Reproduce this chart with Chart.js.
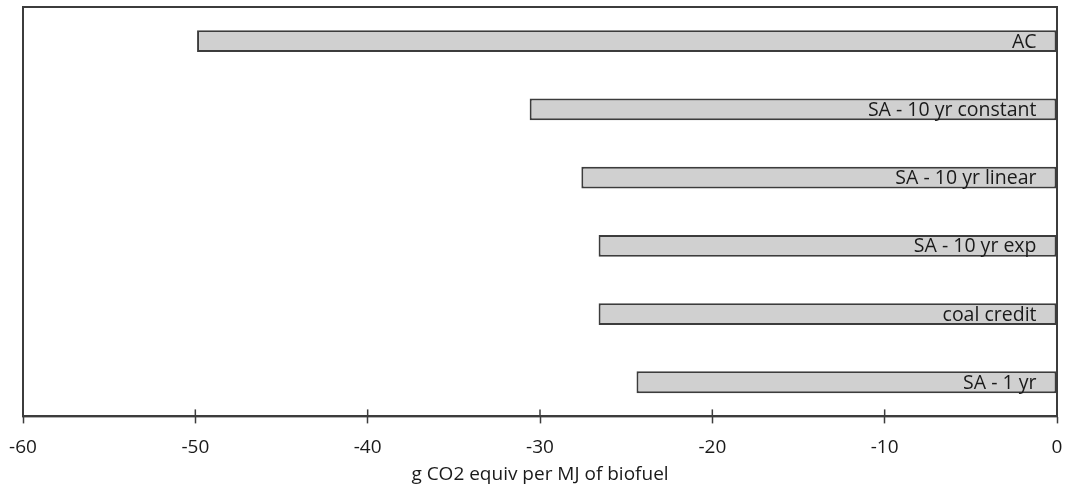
<!DOCTYPE html>
<html>
<head>
<meta charset="utf-8">
<script src="https://cdn.jsdelivr.net/npm/chart.js@4.4.0/dist/chart.umd.min.js"></script>
<style>
  body { margin: 0; background: #fff; }
  #wrap { width: 1065px; height: 490px; }
</style>
</head>
<body>
<div id="wrap"><canvas id="myChart" width="1065" height="490"></canvas></div>
<script>
'use strict';
// scenario names, top to bottom
let scenarios = ['AC', 'SA - 10 yr constant', 'SA - 10 yr linear', 'SA - 10 yr exp', 'coal credit', 'SA - 1 yr'];
// g CO2 equiv per MJ of biofuel
let values = [-49.9, -30.6, -27.6, -26.6, -26.6, -24.4];
let xTicks = [-60, -50, -40, -30, -20, -10, 0];
let xTitle = 'g CO2 equiv per MJ of biofuel';

let lineColor = '#3c3c3c';
let fontName = "'Open Sans', 'Liberation Sans', sans-serif";

// frame around the plot, inner tick marks and names inside the bars
let framePlugin = {
    id: 'frame',
    afterDatasetsDraw(chart) {
        let ctx = chart.ctx;
        let a = chart.chartArea;
        ctx.save();
        ctx.strokeStyle = lineColor;
        ctx.lineWidth = 2;
        ctx.strokeRect(a.left, a.top, a.right - a.left, a.bottom - a.top);
        // ticks poke into the plot a little
        let xs = chart.scales.x;
        ctx.lineWidth = 1.5;
        xTicks.forEach(function (t) {
            let px = xs.getPixelForValue(t);
            ctx.beginPath();
            ctx.moveTo(px, a.bottom - 7);
            ctx.lineTo(px, a.bottom);
            ctx.stroke();
        });
        // labels
        let meta = chart.getDatasetMeta(0);
        ctx.fillStyle = '#1a1a1a';
        ctx.font = '19.5px ' + fontName;
        ctx.textAlign = 'right';
        ctx.textBaseline = 'middle';
        meta.data.forEach(function (bar, i) {
            let right = Math.max(bar.x, bar.base);
            ctx.fillText(scenarios[i], right - 20, bar.y + 1);
        });
        ctx.restore();
    }
};

let ctx = document.getElementById('myChart').getContext('2d');
let myChart = new Chart(ctx, {
    type: 'bar',
    data: {
        labels: scenarios,
        datasets: [{
            data: values,
            backgroundColor: '#d0d0d0',
            borderColor: lineColor,
            borderWidth: 2,
            borderSkipped: false,
            barPercentage: 0.32,
            categoryPercentage: 1
        }]
    },
    options: {
        indexAxis: 'y',
        responsive: false,
        animation: false,
        layout: { padding: { left: 23, right: 8, top: 7, bottom: 4 } },
        plugins: {
            legend: { display: false },
            tooltip: { enabled: false }
        },
        scales: {
            x: {
                min: -60,
                max: 0,
                afterBuildTicks: function (axis) {
                    axis.ticks = xTicks.map(function (v) { return { value: v }; });
                },
                afterFit: function (axis) {
                    axis.paddingLeft = 0;
                    axis.paddingRight = 0;
                },
                grid: {
                    display: true,
                    drawOnChartArea: false,
                    tickLength: 7,
                    tickWidth: 1.5,
                    tickColor: lineColor,
                    color: lineColor
                },
                border: { display: true, color: lineColor, width: 2 },
                ticks: {
                    color: '#1a1a1a',
                    font: { family: fontName, size: 19 },
                    padding: 13,
                    maxRotation: 0
                },
                title: {
                    display: true,
                    text: xTitle,
                    color: '#1a1a1a',
                    font: { family: fontName, size: 19 },
                    padding: { top: -9, bottom: 0 }
                }
            },
            y: {
                grid: { display: false },
                border: { display: true, color: lineColor, width: 2 },
                ticks: { display: false },
                afterFit: function (axis) { axis.width = 0; }
            }
        }
    },
    plugins: [framePlugin]
});
</script>
</body>
</html>
